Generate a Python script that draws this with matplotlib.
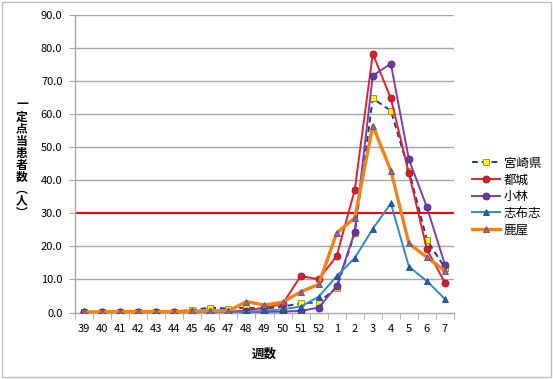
import matplotlib
matplotlib.use("Agg")
import matplotlib.pyplot as plt
from matplotlib.patches import Rectangle
from matplotlib.ticker import FixedLocator

plt.rcParams['font.family'] = ['Noto Sans CJK JP', 'DejaVu Sans']

weeks = ['39', '40', '41', '42', '43', '44', '45', '46', '47', '48', '49', '50', '51', '52',
         '1', '2', '3', '4', '5', '6', '7']
miyazaki = [0.1, 0.2, 0.2, 0.2, 0.3, 0.3, 0.8, 1.5, 1.2, 1.5, 1.2, 1.8, 2.8, 3.1,
            7.5, 24.0, 64.7, 61.0, 42.9, 21.9, 13.5]
miyakonojo = [0.1, 0.3, 0.3, 0.3, 0.2, 0.2, 0.3, 0.3, 0.3, 0.6, 1.5, 2.6, 11.0, 10.1,
              17.1, 37.1, 78.2, 64.7, 42.1, 19.1, 9.0]
kobayashi = [0.1, 0.2, 0.2, 0.2, 0.1, 0.1, 0.1, 0.1, 0.1, 0.2, 0.2, 0.3, 0.5, 1.5,
             8.0, 24.4, 71.6, 75.2, 46.3, 31.8, 14.4]
shibushi = [0.0, 0.0, 0.0, 0.0, 0.0, 0.0, 0.0, 0.0, 0.0, 0.3, 0.5, 1.0, 1.8, 4.8,
            11.0, 16.5, 25.3, 33.0, 13.9, 9.5, 4.1]
kanoya = [0.2, 0.2, 0.3, 0.3, 0.3, 0.3, 0.4, 0.6, 0.5, 3.3, 2.3, 3.1, 6.3, 8.5,
          24.1, 28.6, 56.5, 42.9, 20.9, 16.7, 12.6]
names = ['宮崎県', '都城', '小林', '志布志', '鹿屋']
threshold = 30.0
yticks = [0, 10, 20, 30, 40, 50, 60, 70, 80, 90]
ylabel_chars = ['一', '定', '点', '当', '患', '者', '数', '︵', '人', '︶']

W, H = 553, 379
fig = plt.figure(figsize=(W / 100, H / 100), dpi=100)
fig.patches.append(Rectangle((0.004, 0.004), 0.992, 0.99, transform=fig.transFigure,
                             fill=False, edgecolor='#BFBFBF', linewidth=1.0))
ax = fig.add_axes([0.1356, 0.1752, 0.6854, 0.786])

x = list(range(len(weeks)))

for t in yticks[1:]:
    if t != threshold:
        ax.axhline(t, color='#A6A6A6', linewidth=1.0, zorder=1)
ax.axhline(threshold, color='#FF0000', linewidth=1.5, zorder=2)

ax.plot(x, miyazaki, color='#1F3A8A', linestyle=(0, (3, 2)), linewidth=1.4,
        marker='s', markersize=5, markerfacecolor='#FFFF00', markeredgecolor='#8A8A20',
        markeredgewidth=0.6, label=names[0], zorder=3)
ax.plot(x, miyakonojo, color='#E8202A', linewidth=1.4,
        marker='o', markersize=5, markerfacecolor='#D81E2C', markeredgecolor='#9A1520',
        markeredgewidth=0.6, label=names[1], zorder=3)
ax.plot(x, kobayashi, color='#7A3FB0', linewidth=1.4,
        marker='o', markersize=5, markerfacecolor='#6A3BA8', markeredgecolor='#4A2580',
        markeredgewidth=0.6, label=names[2], zorder=3)
ax.plot(x, shibushi, color='#2E8BCB', linewidth=1.4,
        marker='^', markersize=5, markerfacecolor='#1F5FB0', markeredgecolor='#1A4A90',
        markeredgewidth=0.6, label=names[3], zorder=3)
ax.plot(x, kanoya, color='#F0821E', linewidth=2.4,
        marker='^', markersize=5, markerfacecolor='#8E6A98', markeredgecolor='#6A4A70',
        markeredgewidth=0.6, label=names[4], zorder=4)

ax.set_xlim(-0.5, len(weeks) - 0.5)
ax.set_ylim(0, 90)
ax.set_yticks(yticks)
ax.set_yticklabels([f'{v:.1f}' for v in yticks], fontsize=8)
ax.set_xticks(x)
ax.set_xticklabels(weeks, fontsize=8)
ax.xaxis.set_minor_locator(FixedLocator([i - 0.5 for i in range(len(weeks) + 1)]))
ax.tick_params(axis='x', which='major', length=0, pad=8)
ax.tick_params(axis='x', which='minor', length=4, color='#A6A6A6', direction='out')
ax.tick_params(axis='y', length=4, color='#A6A6A6', direction='out', pad=5)

for s in ['top', 'right']:
    ax.spines[s].set_visible(False)
for s in ['left', 'bottom']:
    ax.spines[s].set_color('#A6A6A6')
    ax.spines[s].set_linewidth(1.0)

ax.set_xlabel('週数', fontsize=9, fontweight='bold', labelpad=10)
for i, ch in enumerate(ylabel_chars):
    ypx = 105 + i * 12.0
    fig.text(22 / W, 1 - ypx / H, ch, fontsize=8.5, fontweight='bold',
             ha='center', va='center')

leg = fig.legend(loc='upper left', bbox_to_anchor=(0.845, 0.6), frameon=False,
                 fontsize=9, handlelength=2.2, handletextpad=0.3, labelspacing=0.3,
                 borderaxespad=0)

fig.savefig('out.png', dpi=100)
